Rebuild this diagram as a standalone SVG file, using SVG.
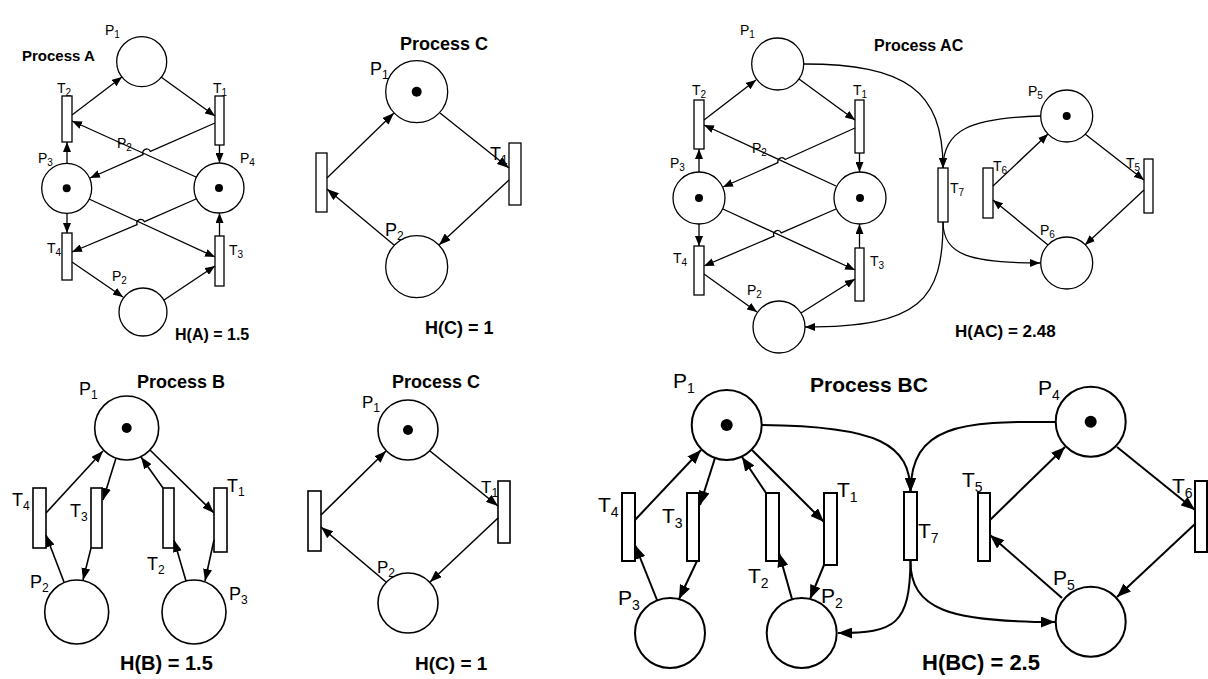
<svg xmlns="http://www.w3.org/2000/svg" width="1208" height="679" viewBox="0 0 1208 679">
<defs>
<style>
text{font-family:"Liberation Sans","Open Sans",Arial,sans-serif;fill:#000}
.t{font-weight:bold}
.pl{fill:#fff;stroke:#000}
.tr{fill:#fff;stroke:#000}
.tok{fill:#000;stroke:none}
.e{fill:none;stroke:#000}
.s1 .e,.s1 .pl,.s1 .tr{stroke-width:1.3}
.s2 .e,.s2 .pl,.s2 .tr{stroke-width:1.6}
.s3 .e,.s3 .pl,.s3 .tr{stroke-width:2}
.as{marker-end:url(#ms)}
.am{marker-end:url(#mm)}
.al{marker-end:url(#ml)}
</style>
<marker id="ms" markerUnits="userSpaceOnUse" markerWidth="10" markerHeight="8" refX="10" refY="4" orient="auto"><path d="M0,0 L10,4 L0,8 z" fill="#000"/></marker>
<marker id="mm" markerUnits="userSpaceOnUse" markerWidth="12" markerHeight="9" refX="12" refY="4.5" orient="auto"><path d="M0,0 L12,4.5 L0,9 z" fill="#000"/></marker>
<marker id="ml" markerUnits="userSpaceOnUse" markerWidth="14" markerHeight="11" refX="14" refY="5.5" orient="auto"><path d="M0,0 L14,5.5 L0,11 z" fill="#000"/></marker>
</defs>
<rect width="1208" height="679" fill="#fff"/>

<!-- Process A -->
<g id="processA" class="s1">
<text class="t" x="22" y="61" font-size="15">Process A</text>
<text class="t" x="175" y="340" font-size="16">H(A) = 1.5</text>
<g id="A-P1"><circle class="pl" cx="141.7" cy="61.7" r="25"/><text x="105" y="35" font-size="14">P<tspan font-size="10" dy="3">1</tspan></text></g>
<g id="A-P3"><circle class="pl" cx="66.7" cy="188.3" r="25"/><circle class="tok" cx="66.7" cy="188.3" r="4"/><text x="38" y="163" font-size="14">P<tspan font-size="10" dy="3">3</tspan></text></g>
<g id="A-P4"><circle class="pl" cx="219" cy="188" r="25"/><circle class="tok" cx="219" cy="188" r="4"/><text x="240" y="163" font-size="14">P<tspan font-size="10" dy="3">4</tspan></text></g>
<g id="A-P2"><circle class="pl" cx="143" cy="312" r="24"/><text x="112" y="281" font-size="14">P<tspan font-size="10" dy="3">2</tspan></text></g>
<g id="A-T2"><rect class="tr" x="62" y="96" width="10" height="46"/><text x="57" y="93" font-size="14">T<tspan font-size="10" dy="3">2</tspan></text></g>
<g id="A-T1"><rect class="tr" x="215" y="96" width="9" height="49"/><text x="213" y="93" font-size="14">T<tspan font-size="10" dy="3">1</tspan></text></g>
<g id="A-T4"><rect class="tr" x="62" y="233" width="10" height="47"/><text x="47" y="253" font-size="14">T<tspan font-size="10" dy="3">4</tspan></text></g>
<g id="A-T3"><rect class="tr" x="215" y="236" width="9" height="50"/><text x="229" y="255" font-size="14">T<tspan font-size="10" dy="3">3</tspan></text></g>
<text x="117" y="148" font-size="14">P<tspan font-size="10" dy="3">2</tspan></text>
</g>

<!-- Process C (top) -->
<g id="processC1" class="s1">
<text class="t" x="400" y="50" font-size="18">Process C</text>
<text class="t" x="425" y="334" font-size="18">H(C) = 1</text>
<g id="C1-P1"><circle class="pl" cx="416.7" cy="91.7" r="31"/><circle class="tok" cx="416.7" cy="91.7" r="5"/><text x="370" y="75" font-size="18">P<tspan font-size="12" dy="4">1</tspan></text></g>
<g id="C1-P2"><circle class="pl" cx="416.7" cy="266.7" r="31"/><text x="385" y="236" font-size="18">P<tspan font-size="12" dy="4">2</tspan></text></g>
<g id="C1-T1"><rect class="tr" x="509" y="143" width="12" height="62"/><text x="490" y="160" font-size="18">T<tspan font-size="12" dy="4">1</tspan></text></g>
<g id="C1-T2"><rect class="tr" x="316" y="153" width="11" height="59"/></g>
</g>

<!-- Process AC -->
<g id="processAC" class="s1">
<text class="t" x="874" y="51" font-size="16">Process AC</text>
<text class="t" x="955" y="337" font-size="17">H(AC) = 2.48</text>
<g id="AC-P1"><circle class="pl" cx="777.7" cy="64" r="26"/><text x="740" y="35" font-size="14">P<tspan font-size="10" dy="3">1</tspan></text></g>
<g id="AC-P3"><circle class="pl" cx="699" cy="198" r="26"/><circle class="tok" cx="699" cy="198" r="4"/><text x="670" y="168" font-size="14">P<tspan font-size="10" dy="3">3</tspan></text></g>
<g id="AC-P4"><circle class="pl" cx="860" cy="198" r="26"/><circle class="tok" cx="860" cy="198" r="4"/></g>
<g id="AC-P2"><circle class="pl" cx="779" cy="327" r="26"/><text x="747" y="295" font-size="14">P<tspan font-size="10" dy="3">2</tspan></text></g>
<g id="AC-P5"><circle class="pl" cx="1066.7" cy="116" r="26"/><circle class="tok" cx="1066.7" cy="116" r="4"/><text x="1028" y="96" font-size="14">P<tspan font-size="10" dy="3">5</tspan></text></g>
<g id="AC-P6"><circle class="pl" cx="1066.7" cy="263" r="26"/><text x="1040" y="235" font-size="14">P<tspan font-size="10" dy="3">6</tspan></text></g>
<g id="AC-T2"><rect class="tr" x="694" y="100" width="10" height="49"/><text x="692" y="95" font-size="14">T<tspan font-size="10" dy="3">2</tspan></text></g>
<g id="AC-T1"><rect class="tr" x="855" y="100" width="9" height="53"/><text x="853" y="95" font-size="14">T<tspan font-size="10" dy="3">1</tspan></text></g>
<g id="AC-T4"><rect class="tr" x="694" y="246" width="10" height="49"/><text x="673" y="263" font-size="14">T<tspan font-size="10" dy="3">4</tspan></text></g>
<g id="AC-T3"><rect class="tr" x="855" y="248" width="9" height="53"/><text x="870" y="266" font-size="14">T<tspan font-size="10" dy="3">3</tspan></text></g>
<g id="AC-T7"><rect class="tr" x="938" y="168" width="10" height="54"/><text x="950" y="193" font-size="14">T<tspan font-size="10" dy="3">7</tspan></text></g>
<g id="AC-T6"><rect class="tr" x="983" y="168" width="10" height="50"/><text x="993" y="171" font-size="14">T<tspan font-size="10" dy="3">6</tspan></text></g>
<g id="AC-T5"><rect class="tr" x="1144" y="159" width="9" height="54"/><text x="1126" y="168" font-size="14">T<tspan font-size="10" dy="3">5</tspan></text></g>
<text x="752" y="153" font-size="14">P<tspan font-size="10" dy="3">2</tspan></text>
</g>

<!-- Process B -->
<g id="processB" class="s2">
<text class="t" x="137" y="388" font-size="18">Process B</text>
<text class="t" x="120" y="670" font-size="20">H(B) = 1.5</text>
<g id="B-P1"><circle class="pl" cx="126.7" cy="428" r="32"/><circle class="tok" cx="126.7" cy="428" r="5"/><text x="79" y="395" font-size="18">P<tspan font-size="12" dy="4">1</tspan></text></g>
<g id="B-P2"><circle class="pl" cx="76.7" cy="612" r="32"/><text x="30" y="588" font-size="18">P<tspan font-size="12" dy="4">2</tspan></text></g>
<g id="B-P3"><circle class="pl" cx="194" cy="612" r="32"/><text x="229" y="600" font-size="18">P<tspan font-size="12" dy="4">3</tspan></text></g>
<g id="B-T4"><rect class="tr" x="33" y="488" width="13" height="60"/><text x="12" y="506" font-size="18">T<tspan font-size="12" dy="4">4</tspan></text></g>
<g id="B-T3"><rect class="tr" x="91" y="488" width="11" height="60"/><text x="70" y="517" font-size="18">T<tspan font-size="12" dy="4">3</tspan></text></g>
<g id="B-T2"><rect class="tr" x="163" y="488" width="11" height="60"/><text x="147" y="570" font-size="18">T<tspan font-size="12" dy="4">2</tspan></text></g>
<g id="B-T1"><rect class="tr" x="214" y="488" width="13" height="64"/><text x="227" y="492" font-size="18">T<tspan font-size="12" dy="4">1</tspan></text></g>
</g>

<!-- Process C (bottom) -->
<g id="processC2" class="s2">
<text class="t" x="392" y="388" font-size="18">Process C</text>
<text class="t" x="415" y="670" font-size="19">H(C) = 1</text>
<g id="C2-P1"><circle class="pl" cx="408" cy="430" r="30"/><circle class="tok" cx="408" cy="430" r="5"/><text x="362" y="408" font-size="17">P<tspan font-size="12" dy="4">1</tspan></text></g>
<g id="C2-P2"><circle class="pl" cx="408" cy="603" r="30"/><text x="377" y="573" font-size="17">P<tspan font-size="12" dy="4">2</tspan></text></g>
<g id="C2-T1"><rect class="tr" x="498" y="481" width="12" height="62"/><text x="481" y="493" font-size="17">T<tspan font-size="12" dy="4">1</tspan></text></g>
<g id="C2-T2"><rect class="tr" x="308" y="491" width="13" height="60"/></g>
</g>

<!-- Process BC -->
<g id="processBC" class="s3">
<text class="t" x="810" y="392" font-size="21">Process BC</text>
<text class="t" x="922" y="670" font-size="22">H(BC) = 2.5</text>
<g id="BC-P1"><circle class="pl" cx="726.7" cy="425" r="35"/><circle class="tok" cx="726.7" cy="425" r="6"/><text x="673" y="388" font-size="21">P<tspan font-size="14" dy="5">1</tspan></text></g>
<g id="BC-P3"><circle class="pl" cx="670" cy="633" r="35"/><text x="618" y="605" font-size="21">P<tspan font-size="14" dy="5">3</tspan></text></g>
<g id="BC-P2"><circle class="pl" cx="801.7" cy="633" r="35"/><text x="821" y="603" font-size="21">P<tspan font-size="14" dy="5">2</tspan></text></g>
<g id="BC-P4"><circle class="pl" cx="1090.7" cy="421.7" r="35"/><circle class="tok" cx="1090.7" cy="421.7" r="6"/><text x="1038" y="395" font-size="21">P<tspan font-size="14" dy="5">4</tspan></text></g>
<g id="BC-P5"><circle class="pl" cx="1090.7" cy="621.7" r="35"/><text x="1053" y="585" font-size="21">P<tspan font-size="14" dy="5">5</tspan></text></g>
<g id="BC-T4"><rect class="tr" x="622" y="493" width="13" height="68"/><text x="598" y="512" font-size="21">T<tspan font-size="14" dy="5">4</tspan></text></g>
<g id="BC-T3"><rect class="tr" x="687" y="493" width="12" height="68"/><text x="662" y="523" font-size="21">T<tspan font-size="14" dy="5">3</tspan></text></g>
<g id="BC-T2"><rect class="tr" x="766" y="493" width="13" height="68"/><text x="748" y="583" font-size="21">T<tspan font-size="14" dy="5">2</tspan></text></g>
<g id="BC-T1"><rect class="tr" x="824" y="493" width="13" height="72"/><text x="837" y="497" font-size="21">T<tspan font-size="14" dy="5">1</tspan></text></g>
<g id="BC-T7"><rect class="tr" x="904" y="492" width="13" height="68"/><text x="918" y="538" font-size="21">T<tspan font-size="14" dy="5">7</tspan></text></g>
<g id="BC-T5"><rect class="tr" x="978" y="493" width="12" height="68"/><text x="962" y="487" font-size="21">T<tspan font-size="14" dy="5">5</tspan></text></g>
<g id="BC-T6"><rect class="tr" x="1195" y="481" width="12" height="71"/><text x="1172" y="493" font-size="21">T<tspan font-size="14" dy="5">6</tspan></text></g>
</g>

<!-- Connectors -->
<g id="connectors">
<g class="s1">
<path class="e as" d="M72,115 L122,77"/>
<path class="e as" d="M161,77 L215,116"/>
<path class="e as" d="M215,123 L150.4,151.4 A4,4 0 0 0 143.0,154.6 L90,178"/>
<path class="e as" d="M196,177 L72,121"/>
<path class="e as" d="M219.5,145 L219.5,163"/>
<path class="e as" d="M67,163 L67,142"/>
<path class="e as" d="M67,213 L67,233"/>
<path class="e as" d="M219.5,236 L219.5,213"/>
<path class="e as" d="M89,199 L215,257"/>
<path class="e as" d="M196,199 L144.5,221.7 A4,4 0 0 0 137.1,224.7 L72,252"/>
<path class="e as" d="M72,262 L123,297"/>
<path class="e as" d="M164,300 L215,266"/>

<path class="e am" d="M327,178 L394,113"/>
<path class="e am" d="M440,113 L509,168"/>
<path class="e am" d="M509,180 L439,245"/>
<path class="e am" d="M394,245 L327,189"/>

<path class="e as" d="M704,120 L756,80"/>
<path class="e as" d="M799,79 L855,120"/>
<path class="e as" d="M855,128 L785.1,159.5 A4,4 0 0 0 777.9,162.7 L723,187"/>
<path class="e as" d="M836,186 L704,125"/>
<path class="e as" d="M859.5,153 L859.5,172"/>
<path class="e as" d="M699,172 L699,149"/>
<path class="e as" d="M699,224 L699,246"/>
<path class="e as" d="M859.5,248 L859.5,224"/>
<path class="e as" d="M723,209 L855,270"/>
<path class="e as" d="M836,209 L781.3,232.9 A4,4 0 0 0 773.9,236.1 L704,266"/>
<path class="e as" d="M704,274 L757,312"/>
<path class="e as" d="M801,313 L855,279"/>
<path class="e as" d="M804,64 C905,64 943,90 943,168"/>
<path class="e as" d="M1041,116 C970,118 943,130 943,168"/>
<path class="e as" d="M943,222 C943,255 970,263 1040,263"/>
<path class="e as" d="M943,222 C943,300 920,327 805,327"/>
<path class="e as" d="M993,186 L1048,134"/>
<path class="e as" d="M1085,134 L1144,180"/>
<path class="e as" d="M1144,190 L1085,245"/>
<path class="e as" d="M1048,245 L993,200"/>
</g>
<g class="s2">
<path class="e am" d="M46,513 L103,451"/>
<path class="e am" d="M116,458 L103,500"/>
<path class="e am" d="M91,548 L83,580"/>
<path class="e am" d="M64,582 L46,535"/>
<path class="e am" d="M163,488 L141,457"/>
<path class="e am" d="M150,450 L214,513"/>
<path class="e am" d="M214,540 L205,581"/>
<path class="e am" d="M186,581 L174,540"/>

<path class="e am" d="M321,515 L386,451"/>
<path class="e am" d="M430,451 L498,506"/>
<path class="e am" d="M498,518 L430,582"/>
<path class="e am" d="M386,582 L321,527"/>
</g>
<g class="s3">
<path class="e al" d="M635,520 L701,450"/>
<path class="e al" d="M715,458 L700,505"/>
<path class="e al" d="M697,561 L679,599"/>
<path class="e al" d="M657,600 L635,545"/>
<path class="e al" d="M766,493 L742,457"/>
<path class="e al" d="M752,450 L824,522"/>
<path class="e al" d="M824,565 L810,599"/>
<path class="e al" d="M792,599 L779,553"/>
<path class="e al" d="M762,425 C880,426 910,445 910.5,492"/>
<path class="e al" d="M1056,422 C960,421 911,425 910.5,492"/>
<path class="e al" d="M910.5,560 C910,610 950,622 1055,622"/>
<path class="e al" d="M910.5,560 C910,625 895,633 838,633"/>
<path class="e al" d="M990,520 L1065,447"/>
<path class="e al" d="M1117,447 L1195,510"/>
<path class="e al" d="M1195,524 L1117,597"/>
<path class="e al" d="M1062,598 L990,535"/>
</g>
</g>
</svg>
